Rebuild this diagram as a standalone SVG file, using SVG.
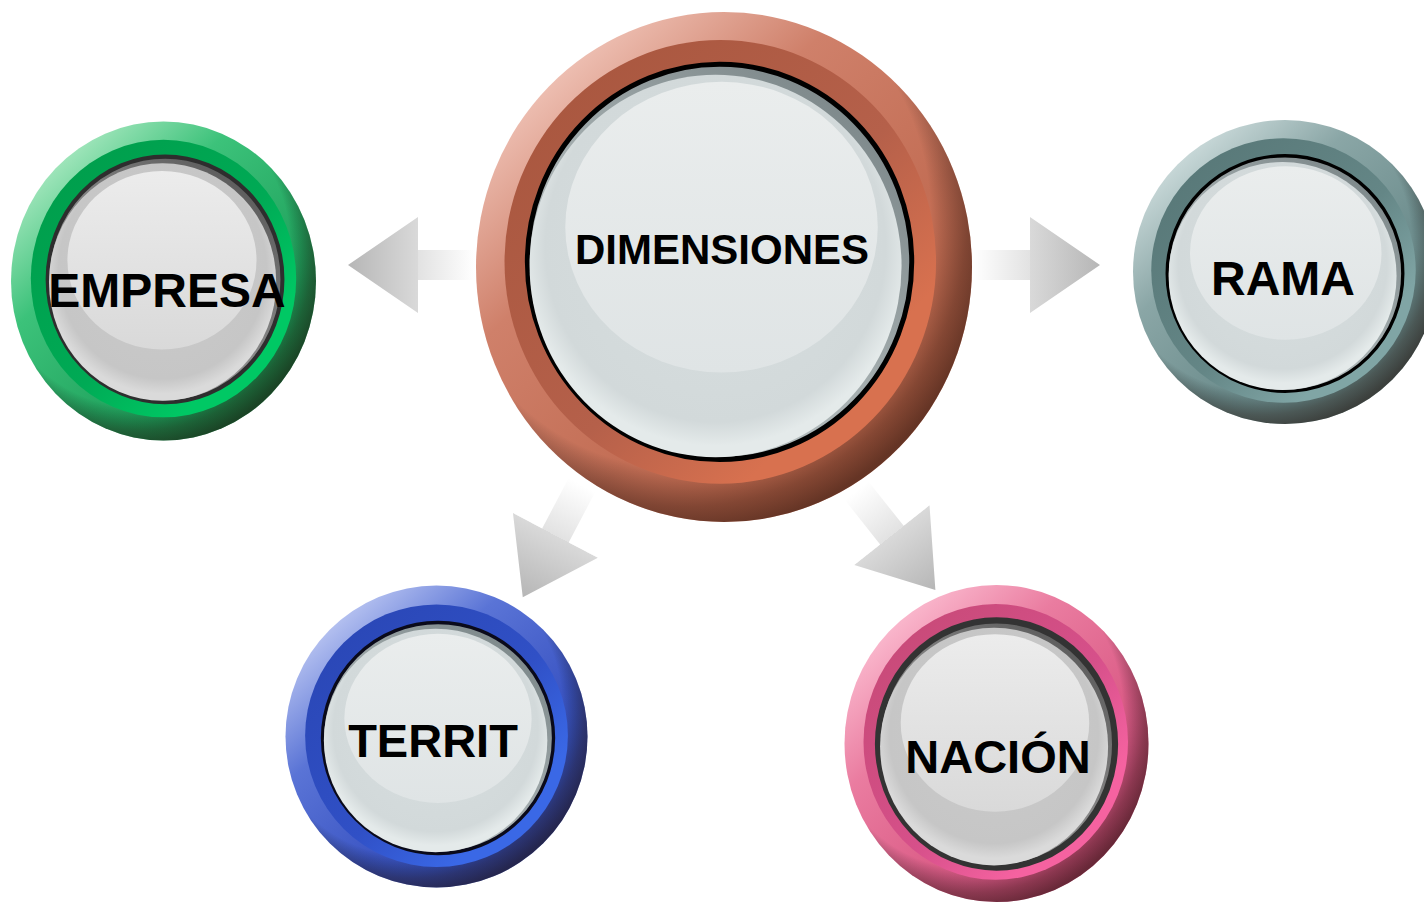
<svg xmlns="http://www.w3.org/2000/svg" width="1424" height="903" viewBox="0 0 1424 903">
<defs>
  <style>
    .lbl{font-family:"Liberation Sans",Arial,sans-serif;font-weight:bold;fill:#000;text-anchor:middle}
  </style>
  <!-- shared shadow on outer rim -->
  <radialGradient id="shade" cx="0.42" cy="0.4" r="0.62">
    <stop offset="0" stop-color="#000" stop-opacity="0"/>
    <stop offset="0.8" stop-color="#000" stop-opacity="0"/>
    <stop offset="0.92" stop-color="#1a0a05" stop-opacity="0.42"/>
    <stop offset="1" stop-color="#1a0a05" stop-opacity="0.6"/>
  </radialGradient>
  <!-- outer rims -->
  <linearGradient id="oDim" x1="0.15" y1="0.1" x2="0.85" y2="0.9">
    <stop offset="0" stop-color="#f0c4b8"/><stop offset="0.3" stop-color="#cf806a"/>
    <stop offset="0.65" stop-color="#c36e55"/><stop offset="1" stop-color="#d87555"/>
  </linearGradient>
  <linearGradient id="oEmp" x1="0.15" y1="0.1" x2="0.85" y2="0.9">
    <stop offset="0" stop-color="#a8e8c0"/><stop offset="0.3" stop-color="#3cc27a"/>
    <stop offset="0.65" stop-color="#25a862"/><stop offset="1" stop-color="#1a9a55"/>
  </linearGradient>
  <linearGradient id="oRam" x1="0.15" y1="0.1" x2="0.85" y2="0.9">
    <stop offset="0" stop-color="#cddcdc"/><stop offset="0.3" stop-color="#8aa6a6"/>
    <stop offset="0.65" stop-color="#6f8f8f"/><stop offset="1" stop-color="#6f9191"/>
  </linearGradient>
  <linearGradient id="oTer" x1="0.15" y1="0.1" x2="0.85" y2="0.9">
    <stop offset="0" stop-color="#bcc7f2"/><stop offset="0.3" stop-color="#5a74d6"/>
    <stop offset="0.65" stop-color="#3c56c4"/><stop offset="1" stop-color="#3550bc"/>
  </linearGradient>
  <linearGradient id="oNac" x1="0.15" y1="0.1" x2="0.85" y2="0.9">
    <stop offset="0" stop-color="#fbbcd0"/><stop offset="0.3" stop-color="#ea7ca0"/>
    <stop offset="0.65" stop-color="#dc5e88"/><stop offset="1" stop-color="#de5585"/>
  </linearGradient>
  <!-- inner bands -->
  <linearGradient id="bDim" x1="0.1" y1="0.1" x2="0.9" y2="0.9">
    <stop offset="0" stop-color="#a9573f"/><stop offset="0.55" stop-color="#b5604a"/>
    <stop offset="0.85" stop-color="#d8714f"/><stop offset="1" stop-color="#d8714f"/>
  </linearGradient>
  <linearGradient id="bEmp" x1="0.1" y1="0.1" x2="0.9" y2="0.9">
    <stop offset="0" stop-color="#009e4c"/><stop offset="0.55" stop-color="#00aa55"/>
    <stop offset="0.85" stop-color="#00c864"/><stop offset="1" stop-color="#00c864"/>
  </linearGradient>
  <linearGradient id="bRam" x1="0.1" y1="0.1" x2="0.9" y2="0.9">
    <stop offset="0" stop-color="#587878"/><stop offset="0.55" stop-color="#648686"/>
    <stop offset="0.85" stop-color="#80a5a5"/><stop offset="1" stop-color="#80a5a5"/>
  </linearGradient>
  <linearGradient id="bTer" x1="0.1" y1="0.1" x2="0.9" y2="0.9">
    <stop offset="0" stop-color="#2a47b6"/><stop offset="0.55" stop-color="#3050c6"/>
    <stop offset="0.85" stop-color="#3a68e6"/><stop offset="1" stop-color="#3a68e6"/>
  </linearGradient>
  <linearGradient id="bNac" x1="0.1" y1="0.1" x2="0.9" y2="0.9">
    <stop offset="0" stop-color="#c84a78"/><stop offset="0.55" stop-color="#d6508a"/>
    <stop offset="0.85" stop-color="#f562a0"/><stop offset="1" stop-color="#f562a0"/>
  </linearGradient>
  <!-- centre discs -->
  <linearGradient id="bevB" x1="0.8" y1="0.1" x2="0.2" y2="0.9">
    <stop offset="0" stop-color="#7f8a8c"/><stop offset="1" stop-color="#c4cccd"/>
  </linearGradient>
  <linearGradient id="bevG" x1="0.8" y1="0.1" x2="0.2" y2="0.9">
    <stop offset="0" stop-color="#5e5e5e"/><stop offset="1" stop-color="#b0b0b0"/>
  </linearGradient>
  <radialGradient id="bodyB" cx="0.5" cy="0.45" r="0.52">
    <stop offset="0" stop-color="#d8dfe0"/><stop offset="0.88" stop-color="#d2d9da"/>
    <stop offset="1" stop-color="#e4eaea"/>
  </radialGradient>
  <radialGradient id="bodyG" cx="0.5" cy="0.45" r="0.52">
    <stop offset="0" stop-color="#cbcbcb"/><stop offset="0.88" stop-color="#c6c6c6"/>
    <stop offset="1" stop-color="#dadada"/>
  </radialGradient>
  <linearGradient id="hiB" x1="0" y1="0" x2="0" y2="1">
    <stop offset="0" stop-color="#eaeded"/><stop offset="1" stop-color="#dfe4e5"/>
  </linearGradient>
  <linearGradient id="hiG" x1="0" y1="0" x2="0" y2="1">
    <stop offset="0" stop-color="#ececec"/><stop offset="1" stop-color="#d9d9d9"/>
  </linearGradient>
  <!-- arrow -->
  <linearGradient id="arrowG" x1="0" y1="0" x2="1" y2="0">
    <stop offset="0" stop-color="#ffffff"/><stop offset="0.45" stop-color="#e2e2e2"/>
    <stop offset="0.45" stop-color="#d9d9d9"/><stop offset="1" stop-color="#b6b6b6"/>
  </linearGradient>
  <path id="arrowShape" d="M0,-15 L57,-15 L57,-48 L127,0 L57,48 L57,15 L0,15 Z"/>
</defs>

<rect width="1424" height="903" fill="#ffffff"/>

<g id="connectors">
  <use href="#arrowShape" fill="url(#arrowG)" transform="translate(475,265) rotate(180)"/>
  <use href="#arrowShape" fill="url(#arrowG)" transform="translate(973,265)"/>
  <use href="#arrowShape" fill="url(#arrowG)" transform="translate(582,485) rotate(117.8)"/>
  <use href="#arrowShape" fill="url(#arrowG)" transform="translate(856.5,490.5) rotate(51.6)"/>
</g>

<g id="node-dimensiones">
  <g transform="translate(724,267) scale(2.48,2.55)">
    <circle r="100" fill="url(#oDim)"/>
    <circle r="100" fill="url(#shade)"/>
    <circle cx="-1.5" cy="-2" r="87" fill="url(#bDim)"/>
    <circle cx="-1.8" cy="-2" r="77.5" fill="url(#bevB)" stroke="#000" stroke-width="2"/>
    <circle cx="-3.4" cy="-0.4" r="75" fill="url(#bodyB)"/>
    <ellipse cx="-1" cy="-15.6" rx="63" ry="57" fill="url(#hiB)"/>
  </g>
  <text class="lbl" x="722" y="264" font-size="42">DIMENSIONES</text>
</g>

<g id="node-empresa">
  <g transform="translate(163.5,281) scale(1.525,1.595)">
    <circle r="100" fill="url(#oEmp)"/>
    <circle r="100" fill="url(#shade)"/>
    <circle cx="0" cy="-1.5" r="87" fill="url(#bEmp)"/>
    <circle cx="1" cy="-1" r="77" fill="url(#bevG)" stroke="#2e2e2e" stroke-width="2.6"/>
    <circle cx="-0.6" cy="0.6" r="74.5" fill="url(#bodyG)"/>
    <ellipse cx="-1" cy="-13" rx="62" ry="56" fill="url(#hiG)"/>
  </g>
  <text class="lbl" x="167" y="307" font-size="48">EMPRESA</text>
</g>

<g id="node-rama">
  <g transform="translate(1285,272) scale(1.52,1.52)">
    <circle r="100" fill="url(#oRam)"/>
    <circle r="100" fill="url(#shade)"/>
    <circle cx="-1" cy="-1" r="87" fill="url(#bRam)"/>
    <circle cx="0" cy="1" r="77.5" fill="url(#bevB)" stroke="#000" stroke-width="2.2"/>
    <circle cx="-1.6" cy="2.6" r="75" fill="url(#bodyB)"/>
    <ellipse cx="0.5" cy="-12.5" rx="63" ry="57" fill="url(#hiB)"/>
  </g>
  <text class="lbl" x="1283" y="295" font-size="48">RAMA</text>
</g>

<g id="node-territ">
  <g transform="translate(436.5,736.5) scale(1.51,1.51)">
    <circle r="100" fill="url(#oTer)"/>
    <circle r="100" fill="url(#shade)"/>
    <circle cx="0" cy="-0.5" r="87" fill="url(#bTer)"/>
    <circle cx="1" cy="1" r="76.5" fill="url(#bevB)" stroke="#0a0a1a" stroke-width="2.2"/>
    <circle cx="-0.6" cy="2.6" r="74" fill="url(#bodyB)"/>
    <ellipse cx="1" cy="-12" rx="62" ry="56" fill="url(#hiB)"/>
  </g>
  <text class="lbl" x="433" y="757" font-size="47">TERRIT</text>
</g>

<g id="node-nacion">
  <g transform="translate(996.5,743.5) scale(1.52,1.585)">
    <circle r="100" fill="url(#oNac)"/>
    <circle r="100" fill="url(#shade)"/>
    <circle cx="-0.5" cy="-1" r="87" fill="url(#bNac)"/>
    <circle cx="0" cy="0.3" r="78" fill="url(#bevG)" stroke="#333333" stroke-width="4"/>
    <circle cx="-1.6" cy="1.9" r="75" fill="url(#bodyG)"/>
    <ellipse cx="-1" cy="-13" rx="62" ry="56" fill="url(#hiG)"/>
  </g>
  <text class="lbl" x="998" y="773" font-size="47">NACIÓN</text>
</g>
</svg>
